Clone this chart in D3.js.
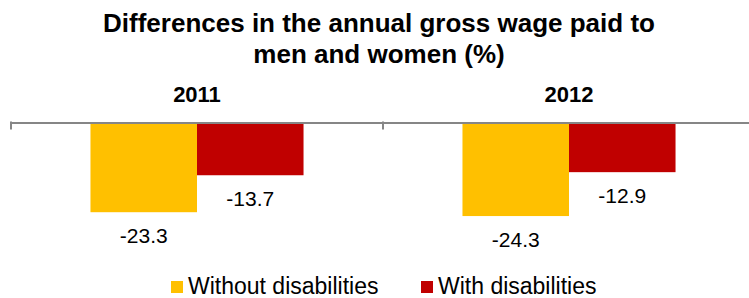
<!DOCTYPE html>
<html lang="en">
<head>
<meta charset="UTF-8">
<title>Wage differences</title>
<script src="https://d3js.org/d3.v7.min.js"></script>
<style>
  body { margin: 0; background: #fff; }
  svg { display: block; font-family: "Liberation Sans", Arial, sans-serif; }
</style>
</head>
<body>
<div class="chart"></div>
<script>
// data
const years = ['2011', '2012']
const seriesNames = ['Without disabilities', 'With disabilities']
const withoutDis = [-23.3, -24.3]
const withDis = [-13.7, -12.9]
const colors = ['#FFC000', '#C00000']

const width = 749, height = 298

const svg = d3.select('.chart')
  .append('svg')
  .attr('width', width)
  .attr('height', height)

// title
const title = svg.append('text')
  .attr('text-anchor', 'middle')
  .style('font-size', '26px')
  .style('font-weight', 'bold')
  .attr('fill', '#000')
title.append('tspan').attr('x', 379).attr('y', 32).text('Differences in the annual gross wage paid to')
title.append('tspan').attr('x', 379).attr('y', 63).text('men and women (%)')

const data = years.map((y, i) => ({ year: y, values: [withoutDis[i], withDis[i]] }))

const xScale = d3.scaleBand()
  .domain(years)
  .range([11, 755])
  .padding(0)

const xSub = d3.scaleBand()
  .domain(seriesNames)
  .range([0, xScale.bandwidth()])
  .paddingInner(0)
  .paddingOuter(0.746)

const yScale = d3.scaleLinear()
  .domain([-30, 0])
  .range([238, 122.5])

// category labels on top
svg.append('g')
  .selectAll('text')
  .data(years)
  .join('text')
  .attr('x', d => xScale(d) + xScale.bandwidth() / 2)
  .attr('y', 102)
  .attr('text-anchor', 'middle')
  .style('font-size', '22px')
  .style('font-weight', 'bold')
  .text(d => d)

// bars
const groups = svg.append('g')
  .selectAll('g')
  .data(data)
  .join('g')
  .attr('transform', d => `translate(${xScale(d.year)},0)`)

groups.selectAll('rect')
  .data(d => d.values.map((v, i) => ({ key: seriesNames[i], value: v, i: i })))
  .join('rect')
  .attr('x', d => xSub(d.key))
  .attr('y', yScale(0))
  .attr('width', xSub.bandwidth())
  .attr('height', d => yScale(d.value) - yScale(0))
  .attr('fill', d => colors[d.i])

// value labels (plain hyphen like the original)
groups.selectAll('text')
  .data(d => d.values.map((v, i) => ({ key: seriesNames[i], value: v })))
  .join('text')
  .attr('x', d => xSub(d.key) + xSub.bandwidth() / 2)
  .attr('y', d => yScale(d.value) + 31)
  .attr('text-anchor', 'middle')
  .style('font-size', '21px')
  .attr('fill', '#000')
  .text(d => d.value.toFixed(1))

// x axis on zero line, ticks between categories
const xAxis = d3.axisTop(xScale).tickSize(0).tickFormat('')
const axisG = svg.append('g')
  .attr('transform', `translate(0,${yScale(0)})`)
  .call(xAxis)
axisG.select('.domain').attr('stroke', '#868686').attr('stroke-width', 2)
axisG.selectAll('.tick').remove()
axisG.selectAll('line.sep')
  .data(years)
  .join('line')
  .attr('class', 'sep')
  .attr('x1', d => xScale(d))
  .attr('x2', d => xScale(d))
  .attr('y1', -1)
  .attr('y2', 7)
  .attr('stroke', '#868686')
  .attr('stroke-width', 2)

// legend
const legend = svg.append('g')
  .selectAll('g')
  .data(seriesNames)
  .join('g')
  .attr('transform', (d, i) => `translate(${i === 0 ? 171 : 421},281)`)

legend.append('rect')
  .attr('width', 12)
  .attr('height', 12)
  .attr('fill', (d, i) => colors[i])

legend.append('text')
  .attr('x', 17)
  .attr('y', 13)
  .style('font-size', '23px')
  .attr('fill', '#000')
  .text(d => d)
</script>
</body>
</html>
